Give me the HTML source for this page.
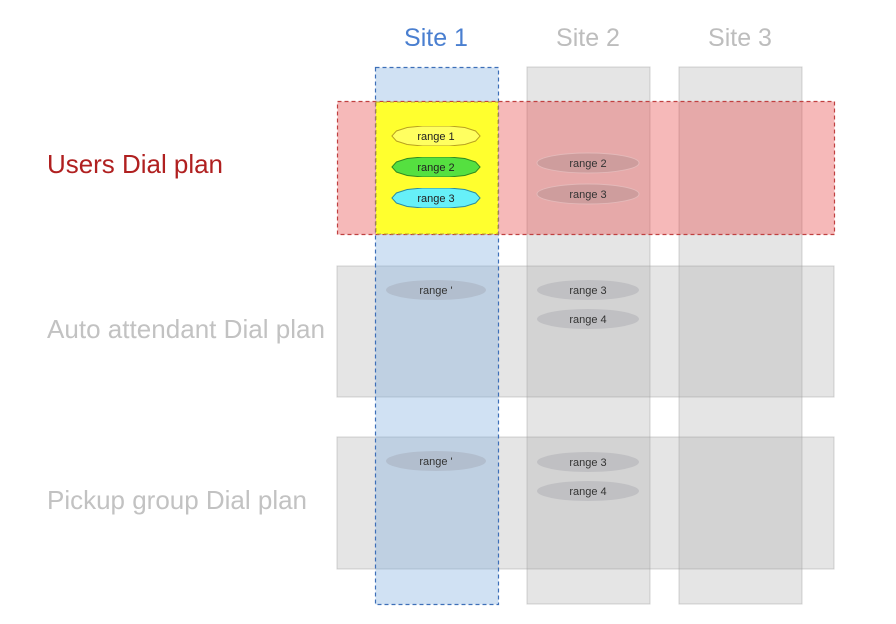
<!DOCTYPE html>
<html><head><meta charset="utf-8"><style>
html,body{margin:0;padding:0;background:#fff;width:896px;height:624px;overflow:hidden}
svg{display:block}
text{font-family:"Liberation Sans",Arial,sans-serif}
</style></head><body>
<svg width="896" height="624" viewBox="0 0 896 624" xmlns="http://www.w3.org/2000/svg">
<defs>
<symbol id="oct" viewBox="0 0 100 20" preserveAspectRatio="none">
<polygon points="1,10 6,5 18,1.5 35,0 65,0 82,1.5 94,5 99,10 94,15 82,18.5 65,20 35,20 18,18.5 6,15"/>
</symbol>
</defs>
<rect x="527" y="67" width="123" height="537" fill="rgba(170,170,170,0.3)" stroke="rgba(150,150,150,0.4)" stroke-width="1"/>
<rect x="679" y="67" width="123" height="537" fill="rgba(170,170,170,0.3)" stroke="rgba(150,150,150,0.4)" stroke-width="1"/>
<rect x="337" y="266" width="497" height="131" fill="rgba(170,170,170,0.3)" stroke="rgba(150,150,150,0.4)"/>
<rect x="337" y="437" width="497" height="132" fill="rgba(170,170,170,0.3)" stroke="rgba(150,150,150,0.4)"/>
<rect x="375.5" y="67.5" width="123" height="537" fill="rgba(120,170,220,0.35)" stroke="#3d6fb8" stroke-width="1.2" stroke-dasharray="4,3"/>
<rect x="337.5" y="101.5" width="497" height="133" fill="rgba(232,70,70,0.38)" stroke="#c04040" stroke-width="1.2" stroke-dasharray="4,3"/>
<rect x="376" y="102" width="122" height="132" fill="#ffff2e" stroke="#b8a030" stroke-width="1" stroke-dasharray="4,3"/>
<use href="#oct" x="391" y="126" width="90" height="20" fill="#ffff60" stroke="#b8a020"/>
<use href="#oct" x="391" y="157" width="90" height="20" fill="#55e040" stroke="#2f8a20"/>
<use href="#oct" x="391" y="188" width="90" height="20" fill="#66f0f8" stroke="#2a8aa0"/>
<g font-size="11" text-anchor="middle" fill="#222">
<text x="436" y="140">range 1</text>
<text x="436" y="171">range 2</text>
<text x="436" y="202">range 3</text>
</g>
<g fill="rgba(190,150,150,0.6)" stroke="rgba(230,190,190,0.8)">
<ellipse cx="588" cy="163" rx="51" ry="10"/>
<ellipse cx="588" cy="194" rx="51" ry="10"/>
</g>
<g fill="rgba(150,150,160,0.3)">
<ellipse cx="436" cy="290" rx="50" ry="10"/>
<ellipse cx="588" cy="290" rx="51" ry="10"/>
<ellipse cx="588" cy="319" rx="51" ry="10"/>
<ellipse cx="436" cy="461" rx="50" ry="10"/>
<ellipse cx="588" cy="462" rx="51" ry="10"/>
<ellipse cx="588" cy="491" rx="51" ry="10"/>
</g>
<g font-size="11" text-anchor="middle" fill="#333">
<text x="588" y="167">range 2</text>
<text x="588" y="198">range 3</text>
<text x="436" y="294">range '</text>
<text x="588" y="294">range 3</text>
<text x="588" y="323">range 4</text>
<text x="436" y="465">range '</text>
<text x="588" y="466">range 3</text>
<text x="588" y="495">range 4</text>
</g>
<g font-size="25" text-anchor="middle">
<text x="436" y="46" fill="#4a7fd0">Site 1</text>
<text x="588" y="46" fill="#bdbdbd">Site 2</text>
<text x="740" y="46" fill="#bdbdbd">Site 3</text>
</g>
<g font-size="26">
<text x="47" y="173" fill="#b02020" textLength="176" lengthAdjust="spacingAndGlyphs">Users Dial plan</text>
<text x="47" y="338" fill="#c2c2c2" textLength="278" lengthAdjust="spacingAndGlyphs">Auto attendant Dial plan</text>
<text x="47" y="509" fill="#c2c2c2" textLength="260" lengthAdjust="spacingAndGlyphs">Pickup group Dial plan</text>
</g>
</svg>
</body></html>
